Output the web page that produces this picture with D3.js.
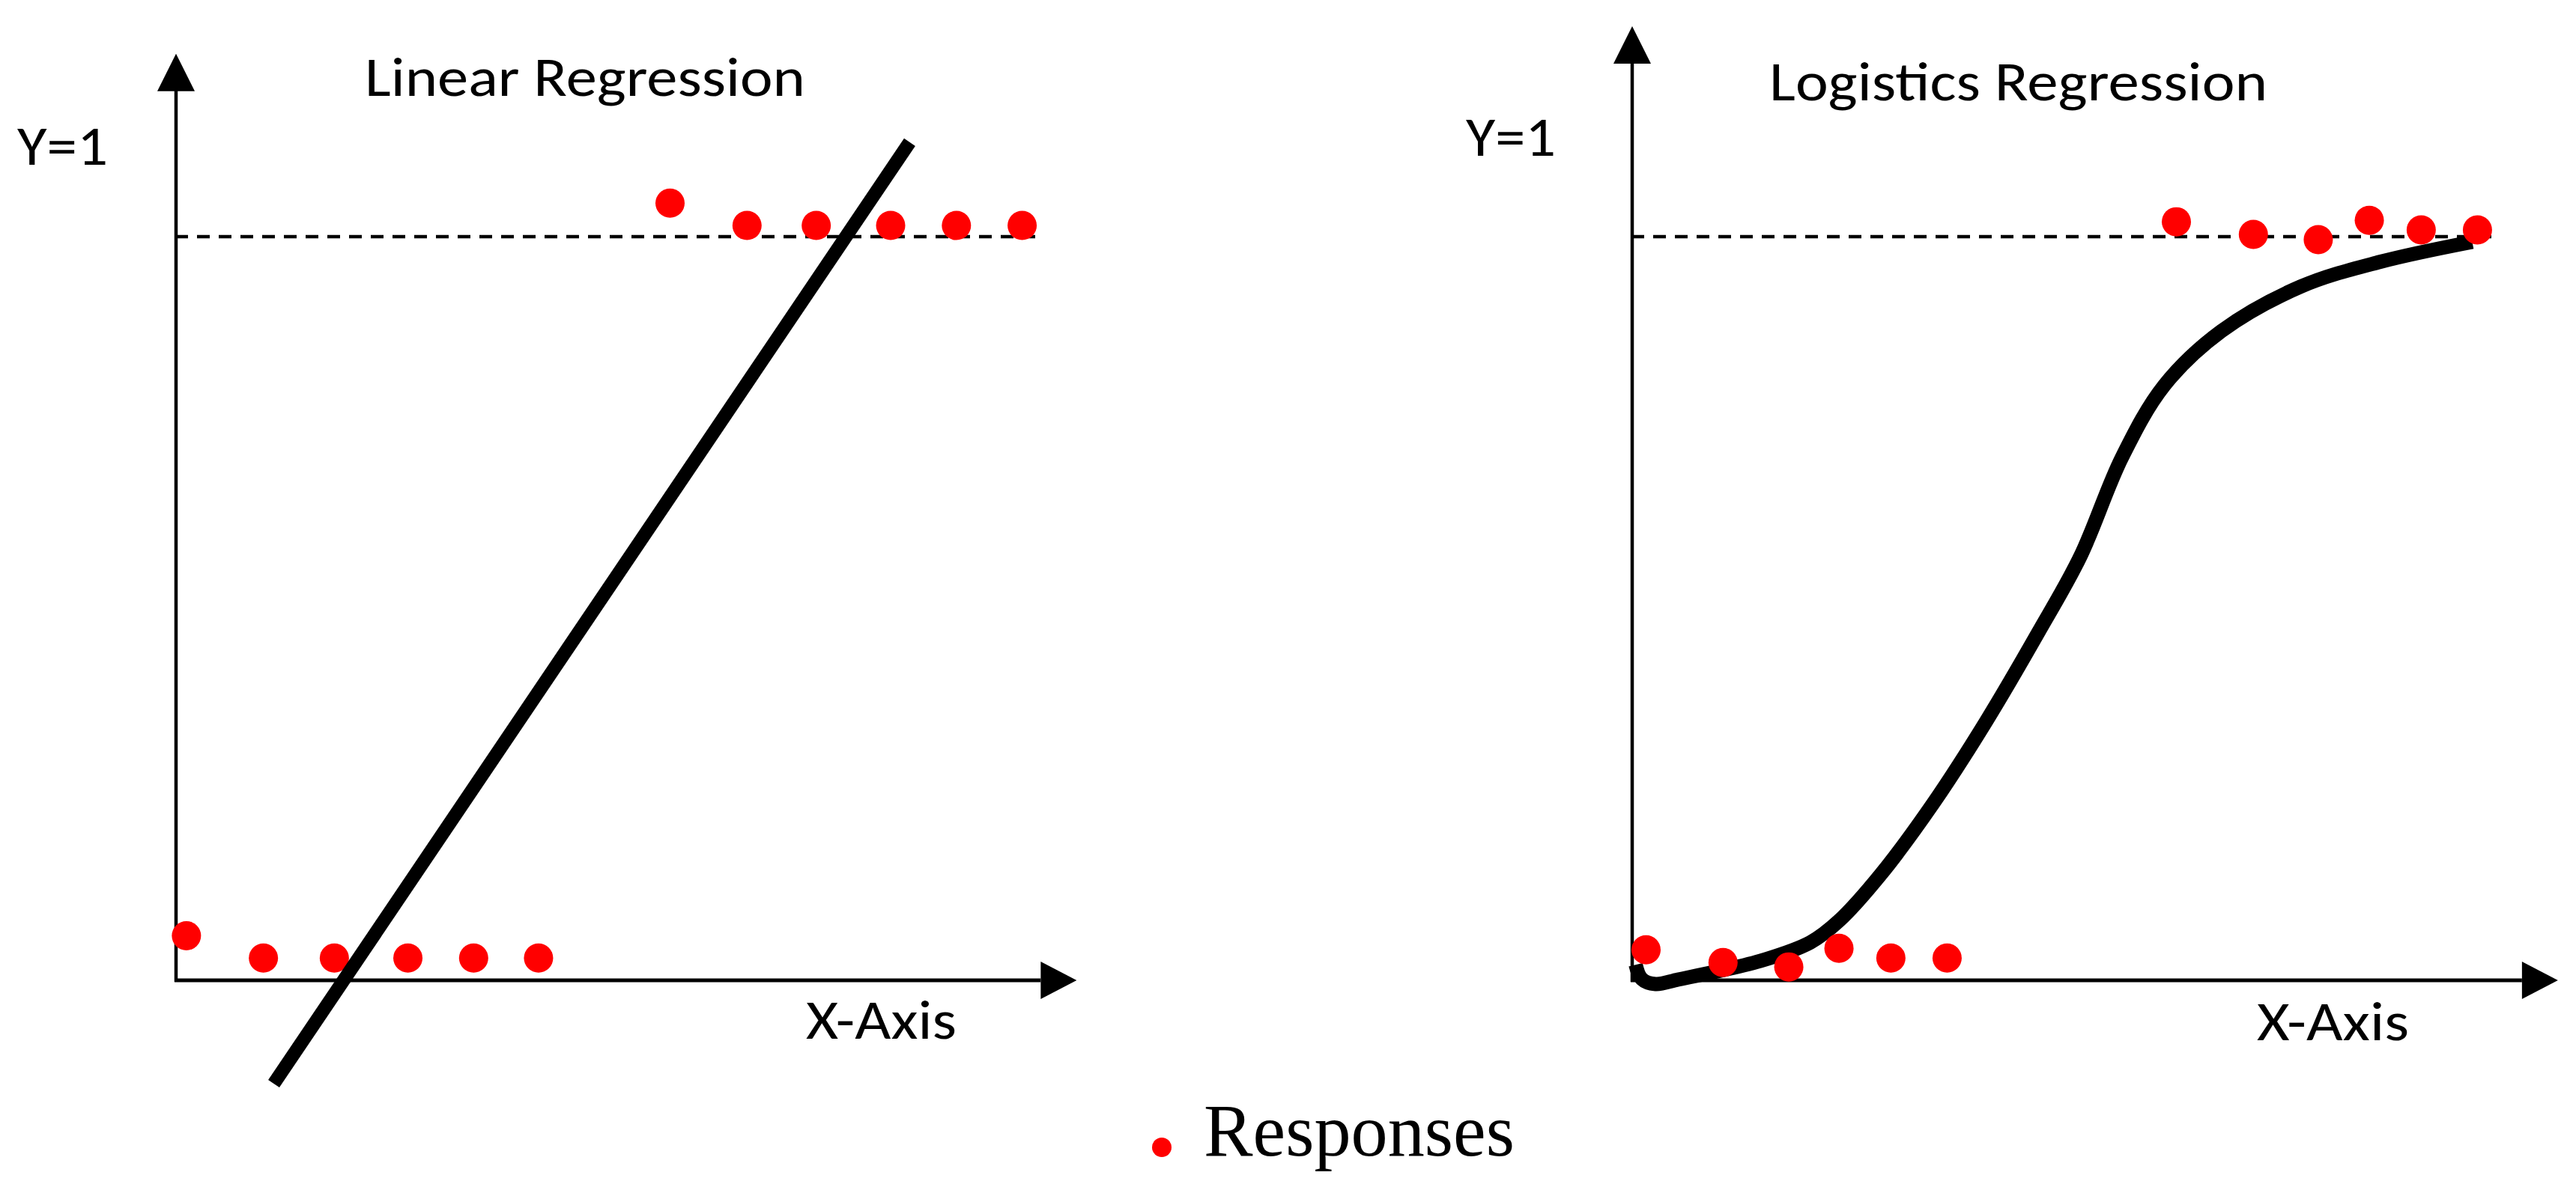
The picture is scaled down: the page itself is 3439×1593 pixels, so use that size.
<!DOCTYPE html>
<html><head><meta charset="utf-8">
<script src="https://cdn.jsdelivr.net/npm/d3@7"></script>
<style>html,body{margin:0;padding:0;background:#fff;} svg{display:block;}</style>
</head><body>
<svg id="chart" width="3439" height="1593"></svg>
<script>
// ---------------- data ----------------
const panelTitles = ["Linear Regression", "Logistics Regression"];
const yLabel = "Y=1";
const xLabel = "X-Axis";
const legendLabel = "Responses";
const thresholdY = 1;

const linearUpperX = [5.71, 6.60, 7.40, 8.26, 9.02, 9.78];
const linearUpperY = [1.045, 1.015, 1.015, 1.015, 1.015, 1.015];
const linearLowerX = [0.12, 1.01, 1.83, 2.68, 3.44, 4.19];
const linearLowerY = [0.060, 0.030, 0.030, 0.030, 0.030, 0.030];
const linearFitX = [1.13, 8.48];
const linearFitY = [-0.139, 1.127];

const logisticUpperX = [6.29, 7.18, 7.93, 8.52, 9.12, 9.77];
const logisticUpperY = [1.020, 1.003, 0.996, 1.022, 1.009, 1.009];
const logisticLowerX = [0.16, 1.05, 1.81, 2.39, 2.99, 3.64];
const logisticLowerY = [0.041, 0.024, 0.018, 0.043, 0.030, 0.030];
const logisticFitX = [0.04, 0.11, 0.27, 0.53, 0.90, 1.48, 2.06, 2.39, 2.87, 3.48, 4.09, 4.69, 5.18, 5.66, 6.15, 6.81, 7.73, 8.64, 9.71];
const logisticFitY = [0.021, 0.002, -0.005, 0.001, 0.010, 0.026, 0.051, 0.080, 0.142, 0.238, 0.348, 0.467, 0.570, 0.703, 0.800, 0.873, 0.933, 0.966, 0.993];

// axis extents in data units (top of y arrow, x arrow tip)
const yAxisTop = [1.246, 1.283];
const xAxisTip = [10.41, 10.70];

// ---------------- layout ----------------
const svg = d3.select("#chart");
const calibri = "Carlito, Calibri, Lato, 'Open Sans', sans-serif";
const y = d3.scaleLinear().domain([0, 1]).range([1309, 316]);
const panels = [
  {x: d3.scaleLinear().domain([0, 10]).range([235, 1390]),
   upper: linearUpperX.map((v, i) => [v, linearUpperY[i]]),
   lower: linearLowerX.map((v, i) => [v, linearLowerY[i]]),
   fit: linearFitX.map((v, i) => [v, linearFitY[i]]),
   curve: d3.curveLinear, fitWidth: 18, fitOnTop: true,
   title: {x: 487, y: 128, len: 588}, ylab: {x: 23, y: 220, len: 121}, xlab: {x: 1076, y: 1387, len: 201}},
  {x: d3.scaleLinear().domain([0, 10]).range([2179, 3334]),
   upper: logisticUpperX.map((v, i) => [v, logisticUpperY[i]]),
   lower: logisticLowerX.map((v, i) => [v, logisticLowerY[i]]),
   fit: logisticFitX.map((v, i) => [v, logisticFitY[i]]),
   curve: d3.curveCatmullRom.alpha(0.5), fitWidth: 19, fitOnTop: false,
   title: {x: 2362, y: 134, len: 665}, ylab: {x: 1957, y: 208, len: 120}, xlab: {x: 3013, y: 1389, len: 203}}
];

panels.forEach((p, k) => {
  const g = svg.append("g");
  const x = p.x;
  const x0 = x(0), y0 = y(0);
  const arrowLen = 48, arrowHalf = 25;
  // y axis
  const yTop = y(yAxisTop[k]);
  g.append("line").attr("x1", x0).attr("x2", x0).attr("y1", yTop + arrowLen).attr("y2", y0 + 2)
    .attr("stroke", "#000").attr("stroke-width", 4.5);
  g.append("path").attr("d", `M${x0},${yTop} L${x0 - arrowHalf},${yTop + arrowLen + 2} L${x0 + arrowHalf},${yTop + arrowLen + 2} Z`).attr("fill", "#000");
  // x axis
  const xTip = x(xAxisTip[k]);
  g.append("line").attr("x1", x0 - 2).attr("x2", xTip - arrowLen).attr("y1", y0).attr("y2", y0)
    .attr("stroke", "#000").attr("stroke-width", 5);
  g.append("path").attr("d", `M${xTip},${y0} L${xTip - arrowLen},${y0 - arrowHalf} L${xTip - arrowLen},${y0 + arrowHalf} Z`).attr("fill", "#000");
  // threshold dashed line
  g.append("line").attr("x1", x0 - 1).attr("x2", x(10)).attr("y1", y(thresholdY)).attr("y2", y(thresholdY))
    .attr("stroke", "#000").attr("stroke-width", 4.5).attr("stroke-dasharray", "17 12");

  const line = d3.line().x(d => x(d[0])).y(d => y(d[1])).curve(p.curve);
  const drawFit = () => g.append("path").attr("d", line(p.fit)).attr("fill", "none")
    .attr("stroke", "#000").attr("stroke-width", p.fitWidth).attr("stroke-linecap", "butt").attr("stroke-linejoin", "round");
  if (!p.fitOnTop) drawFit();
  g.selectAll("circle.pt").data(p.upper.concat(p.lower)).join("circle").attr("class", "pt")
    .attr("cx", d => x(d[0])).attr("cy", d => y(d[1])).attr("r", 19.5).attr("fill", "#ff0000");
  if (p.fitOnTop) drawFit();

  // texts
  g.append("text").attr("x", p.title.x).attr("y", p.title.y).text(panelTitles[k])
    .attr("font-family", calibri).attr("font-size", 74).attr("textLength", p.title.len).attr("lengthAdjust", "spacingAndGlyphs");
  g.append("text").attr("x", p.ylab.x).attr("y", p.ylab.y).text(yLabel)
    .attr("font-family", calibri).attr("font-size", 74).attr("textLength", p.ylab.len).attr("lengthAdjust", "spacingAndGlyphs");
  g.append("text").attr("x", p.xlab.x).attr("y", p.xlab.y).text(xLabel)
    .attr("font-family", calibri).attr("font-size", 74).attr("textLength", p.xlab.len).attr("lengthAdjust", "spacingAndGlyphs");
});

// legend
const lg = svg.append("g");
lg.append("circle").attr("cx", 1551).attr("cy", 1532).attr("r", 13).attr("fill", "#ff0000");
lg.append("text").attr("x", 1607).attr("y", 1543).text(legendLabel)
  .attr("font-family", "'Liberation Serif', 'Times New Roman', serif").attr("font-size", 100)
  .attr("textLength", 415).attr("lengthAdjust", "spacingAndGlyphs");
</script>
</body></html>
